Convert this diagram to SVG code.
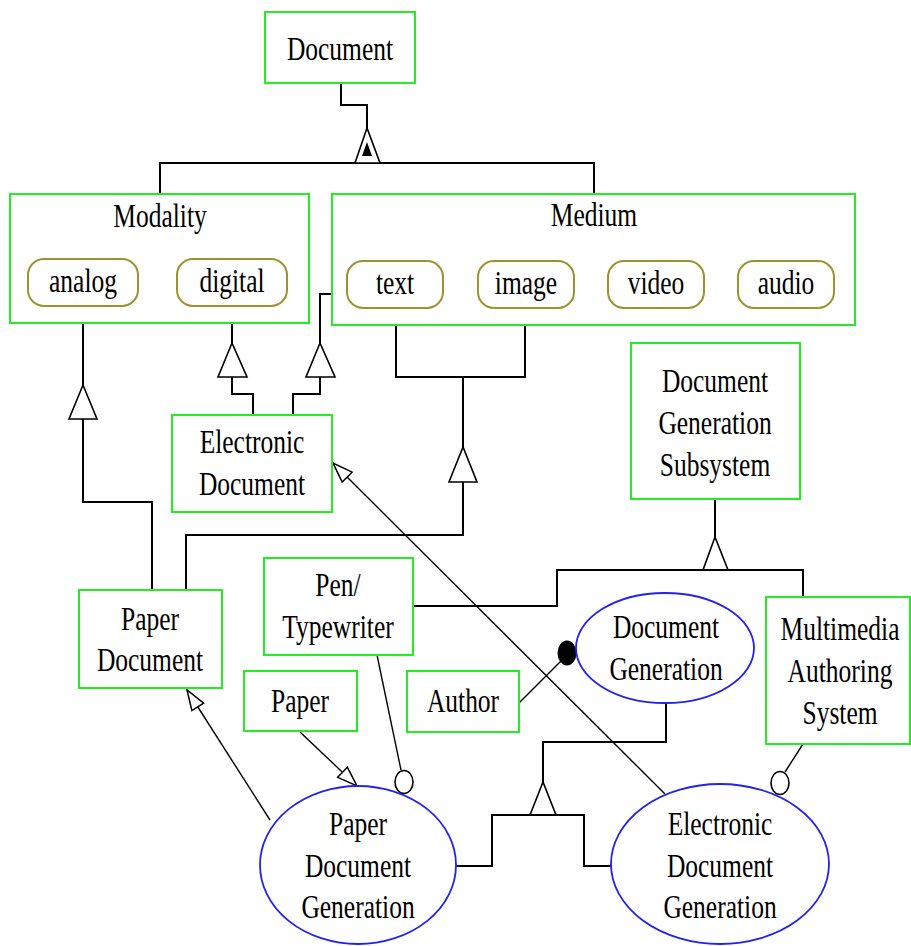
<svg xmlns="http://www.w3.org/2000/svg" width="911" height="946" viewBox="0 0 911 946">
  <style>
    .box { fill: #ffffff; stroke: #22ee22; stroke-width: 2; }
    .pill { fill: #ffffff; stroke: #9c9230; stroke-width: 2; }
    .oval { fill: #ffffff; stroke: #2222ee; stroke-width: 1.8; }
    .t { font-family: "Liberation Serif", "Times New Roman", serif; font-size: 25.5px; fill: #000; text-anchor: middle; }
    .ln { fill: none; stroke: #000; stroke-width: 2; }
    .thin { fill: none; stroke: #000; stroke-width: 1.4; }
    .tri { fill: #ffffff; stroke: #000; stroke-width: 1.6; }
  </style>
  <defs>
    <marker id="openHead" markerUnits="userSpaceOnUse" viewBox="0 0 22 16" refX="21" refY="8" markerWidth="22" markerHeight="16" orient="auto">
      <path d="M1,1 L21,8 L1,15 Z" fill="#ffffff" stroke="#000" stroke-width="1.5"/>
    </marker>
  </defs>
  <rect width="911" height="946" fill="#ffffff"/>

  <!-- connectors -->
  <g id="connectors">
    <!-- Document -> Modality / Medium -->
    <polyline class="ln" points="341,83 341,105 367,105 367,130"/>
    <polyline class="ln" points="160,194 160,163 594,163 594,194"/>
    <polygon class="tri" points="367,128 355,163 380,163"/>
    <polygon fill="#000" points="367,142 362,156 372,156"/>

    <!-- digital / Medium -> Electronic Document -->
    <polyline class="ln" points="232,306 232,343"/>
    <polygon class="tri" points="232,343 218,377 247,377"/>
    <polyline class="ln" points="232,377 232,394 253,394 253,415"/>
    <polyline class="ln" points="332,294 320,294 320,343"/>
    <polygon class="tri" points="320,343 306,377 335,377"/>
    <polyline class="ln" points="320,377 320,394 293,394 293,415"/>

    <!-- analog -> Paper Document -->
    <polyline class="ln" points="83,306 83,385"/>
    <polygon class="tri" points="83,385 69,419 97,419"/>
    <polyline class="ln" points="83,419 83,502 152,502 152,590"/>

    <!-- text / image -> Paper Document -->
    <polyline class="ln" points="396,308 396,377 525,377 525,308"/>
    <polyline class="ln" points="463,377 463,447"/>
    <polygon class="tri" points="463,447 449,482 477,482"/>
    <polyline class="ln" points="463,482 463,535 186,535 186,590"/>

    <!-- Document Generation Subsystem aggregation -->
    <polyline class="ln" points="715,499 715,537"/>
    <polygon class="tri" points="715,537 703,570 728,570"/>
    <polyline class="ln" points="413,606 557,606 557,570 803,570 803,597"/>

    <!-- Document Generation specialisation -->
    <polyline class="ln" points="666,703 666,742 543,742 543,782"/>
    <polygon class="tri" points="543,782 530,815 556,815"/>
    <polyline class="ln" points="456,866 492,866 492,815 584,815 584,866 611,866"/>

    <!-- diagonal associations -->
    <line class="thin" x1="665" y1="794" x2="333" y2="463" marker-end="url(#openHead)"/>
    <line class="thin" x1="270" y1="820" x2="187" y2="690" marker-end="url(#openHead)"/>
    <line class="thin" x1="300" y1="732" x2="357" y2="786" marker-end="url(#openHead)"/>
    <line class="thin" x1="377" y1="655" x2="401" y2="770"/>
    <ellipse cx="404" cy="782" rx="9" ry="11.5" fill="#fff" stroke="#000" stroke-width="1.6"/>
    <line class="thin" x1="803" y1="744" x2="785" y2="772"/>
    <ellipse cx="780" cy="783" rx="9" ry="11.5" fill="#fff" stroke="#000" stroke-width="1.6"/>
    <line class="thin" x1="519" y1="703" x2="562" y2="660"/>
    <ellipse cx="567" cy="653" rx="9.5" ry="12.5" fill="#000"/>
  </g>

  <g id="document">
    <rect class="box" x="265" y="12" width="150" height="71"/>
    <text class="t" transform="translate(340,60) scale(1,1.3)">Document</text>
  </g>

  <g id="modality">
    <rect class="box" x="10" y="194" width="299" height="129"/>
    <text class="t" transform="translate(160,227) scale(1,1.3)">Modality</text>
    <g id="analog">
      <rect class="pill" x="28" y="259" width="110" height="47" rx="16" ry="16"/>
      <text class="t" transform="translate(83,292) scale(1,1.3)">analog</text>
    </g>
    <g id="digital">
      <rect class="pill" x="177" y="259" width="110" height="47" rx="16" ry="16"/>
      <text class="t" transform="translate(232,292) scale(1,1.3)">digital</text>
    </g>
  </g>

  <g id="medium">
    <rect class="box" x="332" y="194" width="523" height="131"/>
    <text class="t" transform="translate(594,226) scale(1,1.3)">Medium</text>
    <g id="text">
      <rect class="pill" x="347" y="261" width="96" height="47" rx="16" ry="16"/>
      <text class="t" transform="translate(395,294) scale(1,1.3)">text</text>
    </g>
    <g id="image">
      <rect class="pill" x="478" y="261" width="96" height="47" rx="16" ry="16"/>
      <text class="t" transform="translate(526,294) scale(1,1.3)">image</text>
    </g>
    <g id="video">
      <rect class="pill" x="608" y="261" width="96" height="47" rx="16" ry="16"/>
      <text class="t" transform="translate(656,294) scale(1,1.3)">video</text>
    </g>
    <g id="audio">
      <rect class="pill" x="738" y="261" width="96" height="47" rx="16" ry="16"/>
      <text class="t" transform="translate(786,294) scale(1,1.3)">audio</text>
    </g>
  </g>

  <g id="electronic-document">
    <rect class="box" x="172" y="415" width="160" height="97"/>
    <text class="t" transform="translate(252,453) scale(1,1.3)">Electronic</text>
    <text class="t" transform="translate(252,495) scale(1,1.3)">Document</text>
  </g>

  <g id="document-generation-subsystem">
    <rect class="box" x="631" y="343" width="169" height="156"/>
    <text class="t" transform="translate(715,392) scale(1,1.3)">Document</text>
    <text class="t" transform="translate(715,434) scale(1,1.3)">Generation</text>
    <text class="t" transform="translate(715,476) scale(1,1.3)">Subsystem</text>
  </g>

  <g id="paper-document">
    <rect class="box" x="79" y="590" width="143" height="98"/>
    <text class="t" transform="translate(150,630) scale(1,1.3)">Paper</text>
    <text class="t" transform="translate(150,671) scale(1,1.3)">Document</text>
  </g>

  <g id="pen-typewriter">
    <rect class="box" x="264" y="558" width="149" height="97"/>
    <text class="t" transform="translate(338,596) scale(1,1.3)">Pen/</text>
    <text class="t" transform="translate(338,638) scale(1,1.3)">Typewriter</text>
  </g>

  <g id="paper">
    <rect class="box" x="244" y="671" width="113" height="60"/>
    <text class="t" transform="translate(300,712) scale(1,1.3)">Paper</text>
  </g>

  <g id="author">
    <rect class="box" x="407" y="671" width="112" height="61"/>
    <text class="t" transform="translate(463,712) scale(1,1.3)">Author</text>
  </g>

  <g id="document-generation">
    <ellipse class="oval" cx="665" cy="648" rx="89" ry="55"/>
    <text class="t" transform="translate(666,638) scale(1,1.3)">Document</text>
    <text class="t" transform="translate(666,680) scale(1,1.3)">Generation</text>
  </g>

  <g id="multimedia-authoring-system">
    <rect class="box" x="766" y="597" width="144" height="147"/>
    <text class="t" transform="translate(840,640) scale(1,1.3)">Multimedia</text>
    <text class="t" transform="translate(840,682) scale(1,1.3)">Authoring</text>
    <text class="t" transform="translate(840,724) scale(1,1.3)">System</text>
  </g>

  <g id="paper-document-generation">
    <ellipse class="oval" cx="358" cy="865" rx="98" ry="79"/>
    <text class="t" transform="translate(358,835) scale(1,1.3)">Paper</text>
    <text class="t" transform="translate(358,877) scale(1,1.3)">Document</text>
    <text class="t" transform="translate(358,918) scale(1,1.3)">Generation</text>
  </g>

  <g id="electronic-document-generation">
    <ellipse class="oval" cx="720" cy="864" rx="109" ry="80"/>
    <text class="t" transform="translate(720,835) scale(1,1.3)">Electronic</text>
    <text class="t" transform="translate(720,877) scale(1,1.3)">Document</text>
    <text class="t" transform="translate(720,918) scale(1,1.3)">Generation</text>
  </g>
</svg>
